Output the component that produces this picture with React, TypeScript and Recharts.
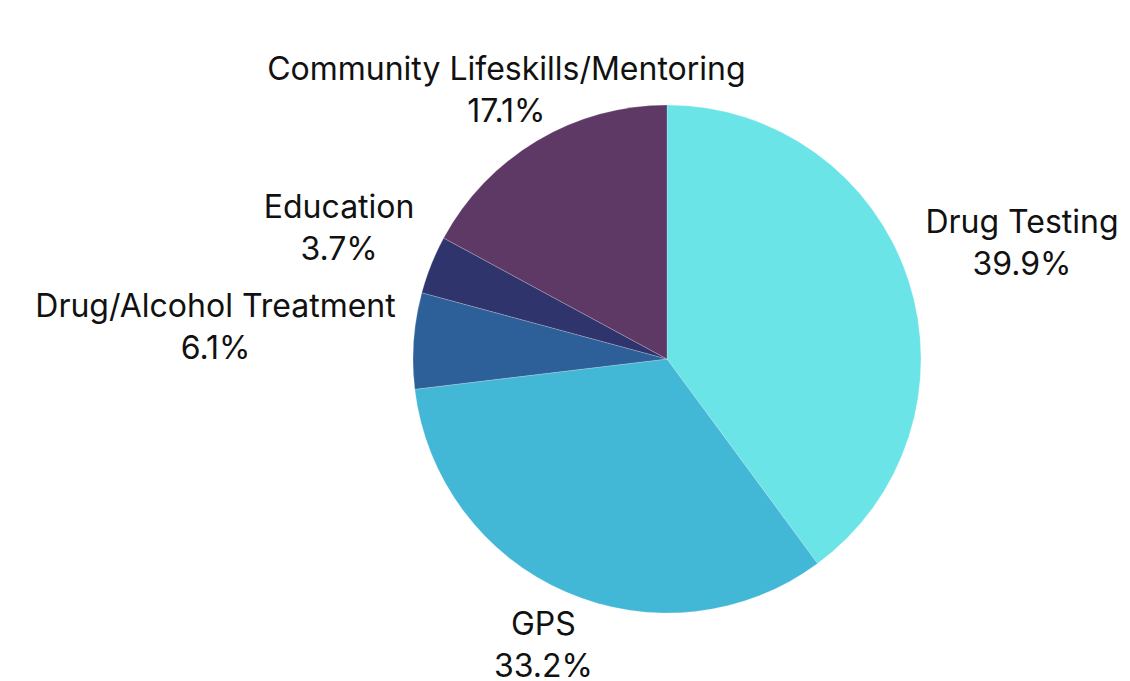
import { Cell, Pie, PieChart } from "recharts";

const categories = ["Drug Testing", "GPS", "Drug/Alcohol Treatment", "Education", "Community Lifeskills/Mentoring"];
const shares = [39.9, 33.2, 6.1, 3.7, 17.1];
const colors = ["#6be4e8", "#42b7d6", "#2d5f98", "#30346c", "#5e3966"];

const data = categories.map((name, i) => ({ name, value: shares[i] }));

const FONT_SIZE = 32;
const FONT_FAMILY = "Inter, 'Noto Sans', sans-serif";
const LINE_GAP = 42;
const LABEL_GAP = 18;
const HALF_H = 36;

let measureCtx: CanvasRenderingContext2D | null = null;

function textWidth(s: string) {
  if (!measureCtx) measureCtx = document.createElement("canvas").getContext("2d");
  if (!measureCtx) return s.length * FONT_SIZE * 0.55;
  measureCtx.font = `${FONT_SIZE}px ${FONT_FAMILY}`;
  return measureCtx.measureText(s).width;
}

// label box sits just outside the pie, along the slice's mid angle
function renderLabel(props: any) {
  const { cx, cy, midAngle, outerRadius, name, value } = props;
  const rad = (Math.PI / 180) * midAngle;
  const cos = Math.cos(rad);
  const sin = Math.sin(rad);
  const pct = `${Number(value).toFixed(1)}%`;
  const halfW = Math.max(textWidth(name), textWidth(pct)) / 2;
  const pushX = Math.abs(cos) > 1e-6 ? halfW / Math.abs(cos) : Infinity;
  const pushY = Math.abs(sin) > 1e-6 ? HALF_H / Math.abs(sin) : Infinity;
  const dist = outerRadius + LABEL_GAP + Math.min(pushX, pushY);
  const x = cx + dist * cos;
  const y = cy - dist * sin;

  return (
    <g>
      <text
        x={x}
        y={y - LINE_GAP / 2}
        textAnchor="middle"
        dominantBaseline="central"
        fill="#111"
        fontSize={FONT_SIZE}
        fontFamily={FONT_FAMILY}
      >
        {name}
      </text>
      <text
        x={x}
        y={y + LINE_GAP / 2}
        textAnchor="middle"
        dominantBaseline="central"
        fill="#111"
        fontSize={FONT_SIZE}
        fontFamily={FONT_FAMILY}
      >
        {pct}
      </text>
    </g>
  );
}

export default function App() {
  return (
    <div style={{ position: "absolute", left: 0, top: 0, width: 1130, height: 681, background: "#fff" }}>
      <PieChart width={1130} height={681} margin={{ top: 0, right: 0, bottom: 0, left: 0 }}>
        <Pie
          data={data}
          dataKey="value"
          nameKey="name"
          cx={667}
          cy={359}
          outerRadius={254}
          startAngle={90}
          endAngle={-270}
          labelLine={false}
          label={renderLabel}
          stroke="rgba(255,255,255,0.35)"
          strokeWidth={0.6}
          isAnimationActive={false}
        >
          {data.map((d, i) => (
            <Cell key={d.name} fill={colors[i]} />
          ))}
        </Pie>
      </PieChart>
    </div>
  );
}
